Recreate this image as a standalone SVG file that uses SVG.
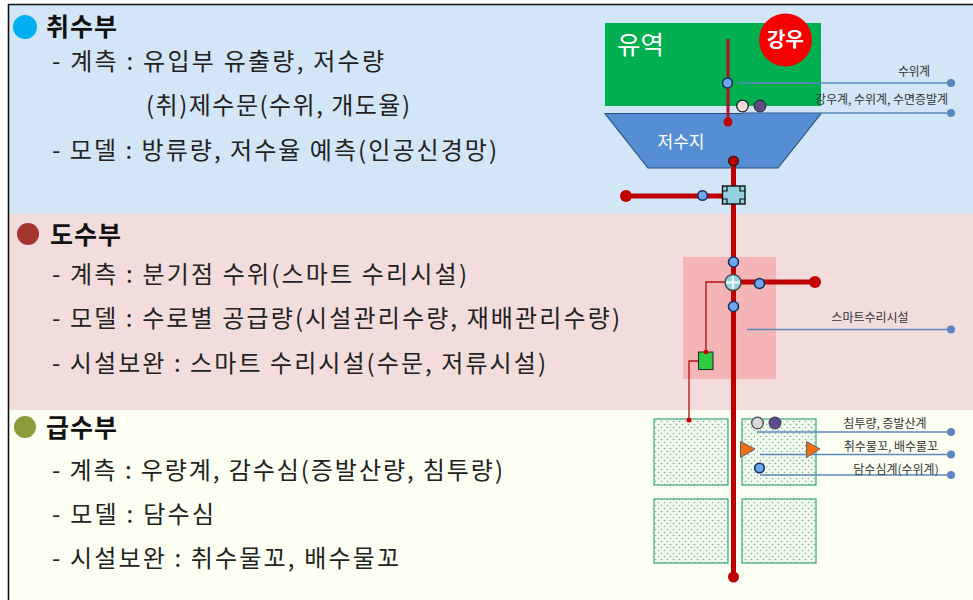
<svg xmlns="http://www.w3.org/2000/svg" width="973" height="600" viewBox="0 0 973 600">
<style>
text{font-family:"Noto Sans CJK KR","Noto Sans",sans-serif}
.h{font-size:25px;font-weight:700;fill:#111}
.b{font-size:24px;fill:#222}
.s{font-size:12px;fill:#333;text-anchor:middle}
.lead{stroke:#5b86bf;stroke-width:1.3;fill:none}
.end{fill:#5b86c4}
.main{stroke:#c00000;stroke-width:5;fill:none}
.thin{stroke:#b01010;stroke-width:1.3;fill:none}
.bl{fill:#6ea6f0;stroke:#16305f;stroke-width:1.6}
.field{fill:url(#dots);stroke:#3aa67c;stroke-width:1.2}
.tri{fill:#f07010;stroke:#5a5a70;stroke-width:1}
</style>
<defs>
<pattern id="dots" width="6" height="6" patternUnits="userSpaceOnUse">
<rect width="6" height="6" fill="#f3f9ef"/>
<circle cx="1.500" cy="1.500" r="0.8" fill="#6fb892"/>
<circle cx="4.500" cy="4.500" r="0.8" fill="#6fb892"/>
</pattern>
</defs>
<rect width="973" height="600" fill="#fff"/>
<g id="bands">
<rect x="8" y="5" width="965" height="209" fill="#d2e6f7"/>
<rect x="8" y="214" width="965" height="196" fill="#f3dcdc"/>
<rect x="8" y="410" width="965" height="190" fill="#fcfff2"/>
<path d="M8.500 600V4.500H973" fill="none" stroke="#111" stroke-width="1.600"/>
</g>
<g id="text-intake">
<circle cx="25" cy="27" r="12" fill="#00b0f0"/>
<text class="h" x="46" y="36" textLength="71">취수부</text>
<text class="b" x="52" y="70" textLength="332">- 계측 : 유입부 유출량, 저수량</text>
<text class="b" x="146" y="114" textLength="264">(취)제수문(수위, 개도율)</text>
<text class="b" x="52" y="159" textLength="445">- 모델 : 방류량, 저수율 예측(인공신경망)</text>
</g>
<g id="text-conveyance">
<circle cx="28" cy="234" r="11" fill="#a5342f"/>
<text class="h" x="50" y="244" textLength="71">도수부</text>
<text class="b" x="52" y="283" textLength="415">- 계측 : 분기점 수위(스마트 수리시설)</text>
<text class="b" x="52" y="327" textLength="568">- 모델 : 수로별 공급량(시설관리수량, 재배관리수량)</text>
<text class="b" x="52" y="372" textLength="494">- 시설보완 : 스마트 수리시설(수문, 저류시설)</text>
</g>
<g id="text-supply">
<circle cx="25" cy="427" r="11" fill="#8b9a3b"/>
<text class="h" x="46" y="437" textLength="71">급수부</text>
<text class="b" x="52" y="479" textLength="451">- 계측 : 우량계, 감수심(증발산량, 침투량)</text>
<text class="b" x="52" y="523" textLength="162">- 모델 : 담수심</text>
<text class="b" x="52" y="567" textLength="347">- 시설보완 : 취수물꼬, 배수물꼬</text>
</g>
<g id="watershed">
<rect x="605" y="23" width="216" height="83" fill="#00b050"/>
<text x="617" y="54" font-size="25.500" fill="#fff">유역</text>
</g>
<g id="rain">
<circle cx="785.500" cy="40" r="26.500" fill="#f50000"/>
<text x="785.500" y="47" font-size="20" font-weight="700" fill="#fff" text-anchor="middle">강우</text>
</g>
<g id="reservoir">
<path d="M605 113.500H821L778 168H648Z" fill="#558ed5" stroke="#2f4f7f" stroke-width="1.200"/>
<text x="681" y="148" font-size="17" fill="#fff" text-anchor="middle">저수지</text>
</g>
<g id="smart-area">
<rect x="683" y="257" width="93" height="122" fill="#f5b4b6"/>
</g>
<g id="fields">
<rect class="field" x="654" y="419" width="74" height="66"/>
<rect class="field" x="742" y="419" width="74" height="66"/>
<rect class="field" x="654" y="499" width="74" height="64"/>
<rect class="field" x="742" y="499" width="74" height="64"/>
</g>
<g id="connectors">
<path d="M728 39V122" stroke="#b3102a" stroke-width="3" fill="none"/>
<path class="main" d="M733.500 161V577"/>
<path class="main" d="M626 196H733M733 282H815"/>
<path class="thin" d="M725 282H706V352M698 361H689V420"/>
<path class="lead" d="M738 83H951M742 113H951M747 329.500H951M757 432H951M760 454.500H951M760 475H951"/>
</g>
<g id="sensors-top">
<circle class="bl" cx="727.500" cy="83" r="5"/>
<circle cx="742.500" cy="106" r="5.800" fill="#f2dcdb" stroke="#222" stroke-width="1.300"/>
<circle cx="760" cy="106" r="5.800" fill="#604a8b" stroke="#333" stroke-width="1.300"/>
<circle cx="728" cy="122" r="4.500" fill="#c00000"/>
<circle cx="733.500" cy="161" r="5" fill="#c00000" stroke="#222" stroke-width="1.200"/>
<circle class="end" cx="951" cy="83" r="4"/>
<circle class="end" cx="951" cy="113" r="4"/>
<text class="s" x="914" y="75.500" textLength="32">수위계</text>
<text class="s" x="881.500" y="103.500" textLength="133">강우계, 수위계, 수면증발계</text>
</g>
<g id="intake-gate">
<circle cx="626" cy="196" r="6" fill="#c00000"/>
<circle class="bl" cx="702.500" cy="195.500" r="4.800"/>
<rect x="722.500" y="186" width="22.500" height="18" fill="#92d0e0" stroke="#111" stroke-width="1.400"/>
<path d="M722 191h5v-5M745 191h-5v-5M722 199h5v5M745 199h-5v5" fill="none" stroke="#111" stroke-width="1.200"/>
</g>
<g id="junction">
<circle class="bl" cx="733.500" cy="262" r="5"/>
<circle class="bl" cx="733.500" cy="306.500" r="5"/>
<circle class="bl" cx="759.500" cy="283.500" r="5"/>
<circle cx="733" cy="282.500" r="8" fill="#8fd3e0" stroke="#444" stroke-width="1.400"/>
<path d="M733 276v13M726.500 282.500h13" stroke="#e8f4f4" stroke-width="2.500"/>
<circle cx="815" cy="282" r="6" fill="#c00000"/>
</g>
<g id="smart-gate">
<rect x="698.500" y="352" width="14.500" height="17.500" fill="#2ecc40" stroke="#222" stroke-width="1"/>
<circle cx="706" cy="352" r="2.300" fill="#d00000"/>
<circle cx="689" cy="420" r="2.500" fill="#d00000"/>
<circle class="end" cx="951" cy="329.500" r="4"/>
<text class="s" x="870" y="321.500">스마트수리시설</text>
</g>
<g id="sensors-field">
<circle cx="757.500" cy="423" r="5.800" fill="#d9d9d9" stroke="#445" stroke-width="1.300"/>
<circle cx="775" cy="423" r="5.800" fill="#604a8b" stroke="#445" stroke-width="1.300"/>
<path class="tri" d="M740.500 441.500L755 449L740.500 457.500Z"/>
<path class="tri" d="M806.500 441.500L820 449L806.500 457.500Z"/>
<circle class="bl" cx="759.500" cy="468" r="4.800"/>
<circle class="end" cx="951" cy="432" r="4"/>
<circle class="end" cx="951" cy="454.500" r="4"/>
<circle class="end" cx="951" cy="475" r="4"/>
<text class="s" x="885" y="427.500">침투량, 증발산계</text>
<text class="s" x="891" y="451">취수물꼬, 배수물꼬</text>
<text class="s" x="896" y="473.500">담수심계(수위계)</text>
<circle cx="733.500" cy="577" r="5.500" fill="#c00000"/>
</g>
</svg>
